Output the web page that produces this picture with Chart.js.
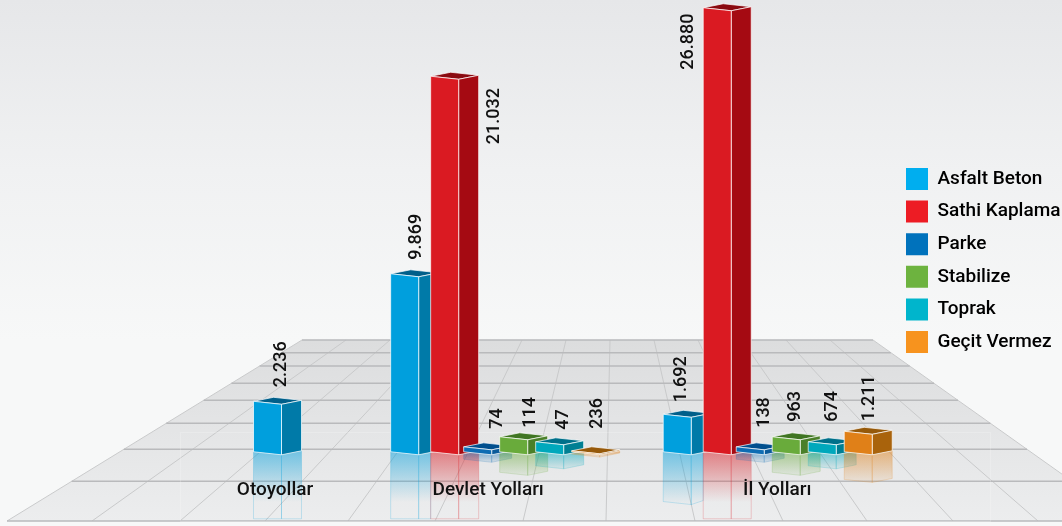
<!DOCTYPE html>
<html>
<head>
<meta charset="utf-8">
<style>
  html, body { margin: 0; padding: 0; background: #f7f8f8; }
  body { width: 1062px; height: 526px; overflow: hidden;
         background: linear-gradient(#e6e7e9 0px, #f0f1f2 170px, #f7f8f8 340px, #f7f8f8 526px); }
  canvas { display: block; }
</style>
</head>
<body>
<canvas id="chart" width="1062" height="526"></canvas>
<script src="https://cdn.jsdelivr.net/npm/chart.js@4"></script>
<script>
var categories = ['Otoyollar', 'Devlet Yolları', 'İl Yolları'];
var seriesNames = ['Asfalt Beton', 'Sathi Kaplama', 'Parke', 'Stabilize', 'Toprak', 'Geçit Vermez'];

// printed figures, as they stand on the picture
var asfaltLabels = ['2.236', '9.869', '1.692'];
var sathiLabels = [null, '21.032', '26.880'];
var parkeLabels = [null, '74', '138'];
var stabilizeLabels = [null, '114', '963'];
var toprakLabels = [null, '47', '674'];
var gecitLabels = [null, '236', '1.211'];

// bar heights as the picture draws them: the original is not to scale
// (114 and 963 stand equally tall), so these differ from the printed figures
var asfaltBars = [3057, 10776, 2270];
var sathiBars = [null, 22733, 26880];
var parkeBars = [null, 300, 300];
var stabilizeBars = [null, 908, 908];
var toprakBars = [null, 605, 605];
var gecitBars = [null, 60, 1241];

var allLabels = [asfaltLabels, sathiLabels, parkeLabels, stabilizeLabels, toprakLabels, gecitLabels];
var allBars = [asfaltBars, sathiBars, parkeBars, stabilizeBars, toprakBars, gecitBars];

// category slots on the x axis, the groups are not evenly spaced
var slotCount = 14;
var categorySlots = [0, 5, 11];
var categoryShift = [6.5, -7.5, 9];

var legendColors = ['#00aeef', '#ed1c24', '#0072bc', '#6db33f', '#00b5cc', '#f7931e'];
var frontColors = ['#009fdd', '#da1a22', '#0d6cb3', '#69ab3b', '#00a8bc', '#e08018'];
var sideColors = ['#007aa8', '#a50a12', '#0a5a9a', '#4a8029', '#007f93', '#a9630c'];
var topColors = ['#005f8a', '#8a0a10', '#004f8e', '#3f7522', '#00708a', '#96590a'];

// the tall bars sit slightly off the regular group spacing
var seriesShift = [-1, 3, 0, 0, 0, 0];

// label placement per series and category: sideways shift, gap above the bar
var labelDx = [[13, 11, 3], [0, 52.5, -26], [0, 20, 14], [0, 16.5, 9], [0, 13.5, 10], [0, 11.5, 11]];
var labelGap = [[17, 17, 15], [0, -65, -59], [0, 21, 22], [0, 12, 18], [0, 15, 23], [0, 25, 13]];

// floor of the scene
var floorRows = [340, 352.7, 366, 383.3, 400.3, 423.3, 449.3, 481.3, 521];
var floorTopX = [302, 346, 390, 434, 478, 522, 566, 610, 654, 698, 742, 786, 830, 873];
var floorBottomX = [7, 92, 180, 265, 348, 435, 523, 606, 695, 783, 867, 953, 1038, 1128];

var sideWidth = 20;
var plotRight = 881.8;
var paddingRight = -8.5;

function slotLabels() {
  var out = [];
  for (var i = 0; i < slotCount; i++) {
    var c = categorySlots.indexOf(i);
    out.push(c >= 0 ? categories[c] : '');
  }
  return out;
}

function slotData(values) {
  var out = [];
  for (var i = 0; i < slotCount; i++) {
    var c = categorySlots.indexOf(i);
    out.push(c >= 0 ? values[c] : null);
  }
  return out;
}

function poly(ctx, pts) {
  ctx.beginPath();
  ctx.moveTo(pts[0][0], pts[0][1]);
  for (var i = 1; i < pts.length; i++) ctx.lineTo(pts[i][0], pts[i][1]);
  ctx.closePath();
}

function alpha(hex, a) {
  var n = parseInt(hex.slice(1), 16);
  return 'rgba(' + (n >> 16) + ',' + ((n >> 8) & 255) + ',' + (n & 255) + ',' + a + ')';
}

function drawFloor(ctx) {
  var lastRow = floorRows[floorRows.length - 1];
  var grad = ctx.createLinearGradient(0, floorRows[0], 0, lastRow);
  grad.addColorStop(0, '#dcddde');
  grad.addColorStop(1, '#ecedee');
  poly(ctx, [[floorTopX[0], floorRows[0]], [floorTopX[13], floorRows[0]], [floorBottomX[13], lastRow], [floorBottomX[0], lastRow]]);
  ctx.fillStyle = grad;
  ctx.fill();

  ctx.lineWidth = 1;
  ctx.strokeStyle = '#c9cacb';
  for (var i = 0; i < floorTopX.length; i++) {
    ctx.beginPath();
    ctx.moveTo(floorTopX[i], floorRows[0]);
    ctx.lineTo(floorBottomX[i], lastRow);
    ctx.stroke();
  }
  ctx.lineWidth = 1.4;
  ctx.strokeStyle = '#b9babc';
  floorRows.forEach(function(y) {
    var t = (y - floorRows[0]) / (lastRow - floorRows[0]);
    ctx.beginPath();
    ctx.moveTo(floorTopX[0] + (floorBottomX[0] - floorTopX[0]) * t, y);
    ctx.lineTo(floorTopX[13] + (floorBottomX[13] - floorTopX[13]) * t, y);
    ctx.stroke();
  });
  ctx.lineWidth = 1;
  ctx.strokeStyle = 'rgba(255,255,255,0.2)';
  ctx.strokeRect(180.5, 432.5, 810, 89);
}

function eachBar(chart, fn) {
  chart.data.datasets.forEach(function(ds, s) {
    chart.getDatasetMeta(s).data.forEach(function(bar, i) {
      var c = categorySlots.indexOf(i);
      if (c >= 0 && allBars[s][c] !== null) fn(bar, s, c);
    });
  });
}

function drawReflection(ctx, bar, s, c) {
  var xL = bar.x - bar.width / 2 + seriesShift[s], xC = xL + bar.width, xR = xC + sideWidth;
  // the blue reflection stops where the red one begins
  if (s === 0 && allBars[1][c] !== null) xR = xL + 40;
  var base = bar.base;
  var h = base - bar.y;
  var capped = h * 1.3 >= 64;
  var rh = capped ? 64 : h * 1.3 + 1;
  var grad = ctx.createLinearGradient(0, base - 3, 0, base + rh);
  grad.addColorStop(0, alpha(frontColors[s], 0.5));
  if (capped) {
    grad.addColorStop(0.75, alpha(frontColors[s], 0));
  } else {
    grad.addColorStop(1, alpha(frontColors[s], h > 30 ? 0 : 0.08));
  }
  ctx.fillStyle = grad;
  ctx.strokeStyle = alpha(frontColors[s], 0.2);
  ctx.lineWidth = 1;
  var front = capped
    ? [[xL, base - 3], [xC, base], [xC, base + rh], [xL, base + rh]]
    : [[xL, base - 3], [xC, base], [xC, base + rh], [xL, base + rh - 3]];
  var side = capped
    ? [[xC, base], [xR, base - 4], [xR, base + rh], [xC, base + rh]]
    : [[xC, base], [xR, base - 4], [xR, base + rh - 4], [xC, base + rh]];
  poly(ctx, front); ctx.fill(); ctx.stroke();
  poly(ctx, side); ctx.fill(); ctx.stroke();
}

function drawBar(ctx, bar, s) {
  var xL = bar.x - bar.width / 2 + seriesShift[s], xC = xL + bar.width, xR = xC + sideWidth;
  var y = bar.y, base = bar.base;
  ctx.lineWidth = 1;
  ctx.lineJoin = 'round';
  ctx.strokeStyle = 'rgba(255,255,255,0.7)';

  poly(ctx, [[xL, y - 3], [xL + sideWidth, y - 7], [xR, y - 4], [xC, y]]);
  ctx.fillStyle = topColors[s];
  ctx.fill();
  ctx.stroke();

  poly(ctx, [[xC, y], [xR, y - 4], [xR, base - 4], [xC, base]]);
  ctx.fillStyle = sideColors[s];
  ctx.fill();
  ctx.stroke();

  poly(ctx, [[xL, y - 3], [xC, y], [xC, base], [xL, base - 3]]);
  ctx.fillStyle = bar.options.backgroundColor;
  ctx.fill();
  ctx.stroke();
}

var scenePlugin = {
  id: 'scene',
  beforeDatasetsDraw: function(chart) {
    var ctx = chart.ctx;
    ctx.save();
    drawFloor(ctx);
    eachBar(chart, function(bar, s, c) { drawReflection(ctx, bar, s, c); });
    eachBar(chart, function(bar, s) { drawBar(ctx, bar, s); });

    ctx.fillStyle = '#111';
    ctx.font = '500 18px Roboto';
    eachBar(chart, function(bar, s, c) {
      ctx.save();
      ctx.translate(bar.x + labelDx[s][c], bar.y - labelGap[s][c]);
      ctx.rotate(-Math.PI / 2);
      ctx.textAlign = 'left';
      ctx.textBaseline = 'middle';
      ctx.fillText(allLabels[s][c], 0, 0);
      ctx.restore();
    });

    ctx.font = '500 19px Roboto';
    ctx.textAlign = 'center';
    ctx.textBaseline = 'middle';
    categories.forEach(function(name, c) {
      var x = chart.scales.x.getPixelForValue(categorySlots[c]) + categoryShift[c];
      ctx.fillText(name, x, chart.scales.x.top + 35);
    });
    ctx.restore();
    return false;
  }
};

var datasets = seriesNames.map(function(name, s) {
  return {
    label: name,
    data: slotData(allBars[s]),
    backgroundColor: frontColors[s],
    skipNull: true,
    barThickness: 36,
    maxBarThickness: 28
  };
});

new Chart(document.getElementById('chart').getContext('2d'), {
  type: 'bar',
  data: { labels: slotLabels(), datasets: datasets },
  plugins: [scenePlugin],
  options: {
    responsive: false,
    animation: false,
    layout: { padding: { left: 245.8, top: 6.8, bottom: 11.8, right: paddingRight } },
    scales: {
      x: {
        offset: true,
        grid: { display: false },
        border: { display: false },
        ticks: { display: false },
        afterFit: function(scale) { scale.height = 59.4; }
      },
      y: {
        position: 'right',
        min: 0,
        max: 27120,
        grid: { display: false },
        border: { display: false },
        ticks: { display: false },
        // leaves the gap between the plot and the legend
        afterFit: function(scale) {
          scale.width = Math.max(0, 1062 - paddingRight - scale.chart.legend.width - plotRight);
        }
      }
    },
    plugins: {
      tooltip: { enabled: false },
      legend: {
        position: 'right',
        labels: {
          boxWidth: 22,
          boxHeight: 22,
          padding: 10.6,
          color: '#111',
          font: { family: 'Roboto', size: 19, weight: '500' },
          generateLabels: function() {
            return seriesNames.map(function(name, s) {
              return { text: name, fillStyle: legendColors[s], lineWidth: 0, strokeStyle: 'transparent', datasetIndex: s };
            });
          }
        }
      }
    }
  }
});
</script>
</body>
</html>
